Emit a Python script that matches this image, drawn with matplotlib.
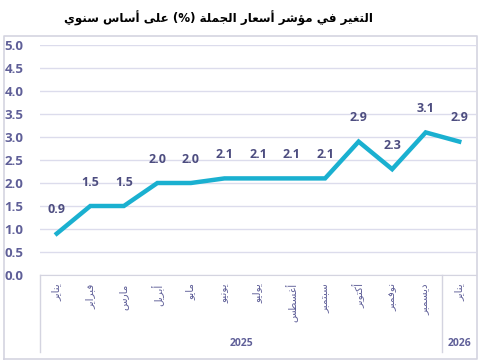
import matplotlib.pyplot as plt
from matplotlib.lines import Line2D
import matplotlib.transforms as mtransforms

# data
months = ['يناير', 'فبراير', 'مارس', 'أبريل', 'مايو', 'يونيو', 'يوليو',
          'أغسطس', 'سبتمبر', 'أكتوبر', 'نوفمبر', 'ديسمبر', 'يناير']
years = ['2025', '2026']
year_spans = [(0, 11), (12, 12)]
values = [0.9, 1.5, 1.5, 2.0, 2.0, 2.1, 2.1, 2.1, 2.1, 2.9, 2.3, 3.1, 2.9]
title = 'التغير في مؤشر أسعار الجملة (%) على أساس سنوي'

# minimal arabic shaping (matplotlib has no complex text layout)
FORMS = {
    'ء': (0xFE80,), 'آ': (0xFE81, 0xFE82), 'أ': (0xFE83, 0xFE84),
    'ؤ': (0xFE85, 0xFE86), 'إ': (0xFE87, 0xFE88), 'ئ': (0xFE89, 0xFE8A, 0xFE8B, 0xFE8C),
    'ا': (0xFE8D, 0xFE8E), 'ب': (0xFE8F, 0xFE90, 0xFE91, 0xFE92), 'ة': (0xFE93, 0xFE94),
    'ت': (0xFE95, 0xFE96, 0xFE97, 0xFE98), 'ث': (0xFE99, 0xFE9A, 0xFE9B, 0xFE9C),
    'ج': (0xFE9D, 0xFE9E, 0xFE9F, 0xFEA0), 'ح': (0xFEA1, 0xFEA2, 0xFEA3, 0xFEA4),
    'خ': (0xFEA5, 0xFEA6, 0xFEA7, 0xFEA8), 'د': (0xFEA9, 0xFEAA), 'ذ': (0xFEAB, 0xFEAC),
    'ر': (0xFEAD, 0xFEAE), 'ز': (0xFEAF, 0xFEB0), 'س': (0xFEB1, 0xFEB2, 0xFEB3, 0xFEB4),
    'ش': (0xFEB5, 0xFEB6, 0xFEB7, 0xFEB8), 'ص': (0xFEB9, 0xFEBA, 0xFEBB, 0xFEBC),
    'ض': (0xFEBD, 0xFEBE, 0xFEBF, 0xFEC0), 'ط': (0xFEC1, 0xFEC2, 0xFEC3, 0xFEC4),
    'ظ': (0xFEC5, 0xFEC6, 0xFEC7, 0xFEC8), 'ع': (0xFEC9, 0xFECA, 0xFECB, 0xFECC),
    'غ': (0xFECD, 0xFECE, 0xFECF, 0xFED0), 'ف': (0xFED1, 0xFED2, 0xFED3, 0xFED4),
    'ق': (0xFED5, 0xFED6, 0xFED7, 0xFED8), 'ك': (0xFED9, 0xFEDA, 0xFEDB, 0xFEDC),
    'ل': (0xFEDD, 0xFEDE, 0xFEDF, 0xFEE0), 'م': (0xFEE1, 0xFEE2, 0xFEE3, 0xFEE4),
    'ن': (0xFEE5, 0xFEE6, 0xFEE7, 0xFEE8), 'ه': (0xFEE9, 0xFEEA, 0xFEEB, 0xFEEC),
    'و': (0xFEED, 0xFEEE), 'ى': (0xFEEF, 0xFEF0), 'ي': (0xFEF1, 0xFEF2, 0xFEF3, 0xFEF4),
}
LAM_ALEF = {'ا': (0xFEFB, 0xFEFC), 'أ': (0xFEF7, 0xFEF8),
            'إ': (0xFEF9, 0xFEFA), 'آ': (0xFEF5, 0xFEF6)}


def ar(text):
    chars = list(text)
    out = []
    i = 0
    while i < len(chars):
        c = chars[i]
        if c not in FORMS:
            out.append(c)
            i += 1
            continue
        prev = chars[i - 1] if i > 0 else None
        joins_prev = prev in FORMS and len(FORMS[prev]) == 4
        if c == 'ل' and i + 1 < len(chars) and chars[i + 1] in LAM_ALEF:
            out.append(chr(LAM_ALEF[chars[i + 1]][1 if joins_prev else 0]))
            i += 2
            continue
        f = FORMS[c]
        nxt = chars[i + 1] if i + 1 < len(chars) else None
        joins_next = len(f) == 4 and nxt in FORMS
        if len(f) == 1:
            g = f[0]
        elif joins_prev and joins_next:
            g = f[3]
        elif joins_prev:
            g = f[1]
        elif joins_next:
            g = f[2]
        else:
            g = f[0]
        out.append(chr(g))
        i += 1
    vis = ''.join(reversed(out))
    return vis.translate(str.maketrans('()', ')('))


W, H = 481, 362
fig = plt.figure(figsize=(W / 100, H / 100), dpi=100)
fig.patch.set_facecolor('white')

purple = '#5f5f98'
dark = '#4d4d80'
line_c = '#1ab0d0'
grid_c = '#dcdcec'
frame_c = '#d4d4e0'

# outer frame around the plot body
fx0, fx1, fy0, fy1 = 3.5 / W, 477.5 / W, 1 - 358.5 / H, 1 - 35.5 / H
fig.add_artist(Line2D([fx0, fx1, fx1, fx0, fx0], [fy0, fy0, fy1, fy1, fy0],
                      transform=fig.transFigure, color=frame_c, linewidth=1.2))

fig.text(218 / W, 1 - 18 / H, ar(title), ha='center', va='center', fontsize=8.6,
         fontweight='bold', color='black', family='DejaVu Sans')

ax = fig.add_axes([40 / W, 1 - 275 / H, 436 / W, 230 / H])
x = list(range(len(values)))
ax.plot(x, values, color=line_c, linewidth=3.2, solid_joinstyle='miter', clip_on=False, zorder=3)
ax.set_xlim(-0.5, len(values) - 0.5)
ax.set_ylim(0, 5)

for s in ['top', 'right', 'left']:
    ax.spines[s].set_visible(False)
ax.spines['bottom'].set_color(frame_c)

ax.set_yticks([i * 0.5 for i in range(11)])
ax.set_yticklabels([f'{i * 0.5:.1f}' for i in range(11)], fontsize=9.5,
                   fontweight='bold', color=purple, family='Open Sans')
ax.tick_params(axis='y', length=0, pad=12)
ax.yaxis.grid(True, color=grid_c, linewidth=1)
ax.set_axisbelow(True)

ax.set_xticks(x)
ax.set_xticklabels([ar(m) for m in months], rotation=90, fontsize=7.5, color=purple,
                   family='DejaVu Sans', va='top')
ax.tick_params(axis='x', length=0, pad=6)

for xi, v in zip(x, values):
    ax.annotate(f'{v:.1f}', (xi, v), xytext=(0, 17), textcoords='offset points',
                ha='center', va='center', fontsize=9, fontweight='bold', color=dark,
                family='Open Sans')

# category group separators and year labels
trans = mtransforms.blended_transform_factory(ax.transData, fig.transFigure)
for xs in [-0.5, 11.5]:
    ax.plot([xs, xs], [1 - 275 / H, 1 - 352 / H], color=frame_c, linewidth=1,
            transform=trans, clip_on=False)
for yr, (a, b) in zip(years, year_spans):
    ax.text((a + b) / 2, 1 - 343 / H, yr, transform=trans, ha='center', va='center',
            fontsize=7.5, fontweight='bold', color=purple, family='Open Sans')

fig.savefig('out.png', dpi=100)
